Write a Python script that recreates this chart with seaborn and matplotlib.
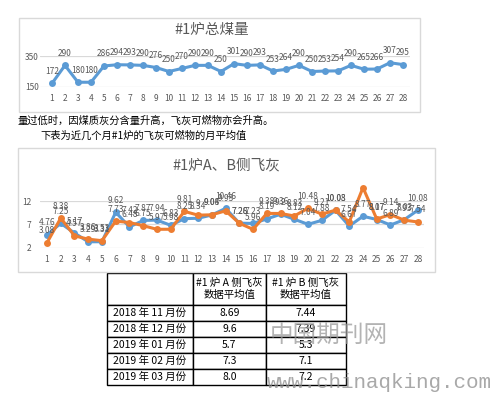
import matplotlib
matplotlib.use('Agg')
import pandas as pd
import matplotlib.pyplot as plt
from matplotlib.patches import Rectangle
import seaborn as sns

# data
days = list(range(1, 29))
coal = [172, 290, 180, 180, 286, 294, 293, 290, 276, 250, 270, 290, 290, 250,
        301, 290, 293, 253, 264, 290, 250, 253, 254, 290, 265, 266, 307, 295]
ash_a = [4.76, 7.25, 5.17, 3.29, 3.31, 9.62, 6.48, 7.87, 7.94, 6.83, 8.25, 8.34, 9.04, 10.46,
         7.28, 7.23, 8.19, 9.2, 8.12, 7.04, 7.88, 10.03, 6.67, 8.77, 8.07, 6.89, 8.03, 10.08]
ash_b = [3.08, 8.38, 4.57, 3.86, 3.53, 7.73, 7.42, 6.75, 5.97, 5.98, 9.81, 9.0, 9.08, 9.93,
         7.26, 5.96, 9.38, 9.36, 8.83, 10.48, 9.21, 10.08, 7.54, 14.9, 8.17, 9.14, 7.93, 7.54]
months = ['2018 年 11 月份', '2018 年 12 月份', '2019 年 01 月份', '2019 年 02 月份', '2019 年 03 月份']
avg_a = ['8.69', '9.6', '5.7', '7.3', '8.0']
avg_b = ['7.44', '7.39', '5.3', '7.1', '7.2']
headers = ['', '#1 炉 A 侧飞灰\n数据平均值', '#1 炉 B 侧飞灰\n数据平均值']

BLUE = '#5B9BD5'
ORANGE = '#ED7D31'
GRAY = '#595959'

sns.set_theme(style='white')
plt.rcParams['font.family'] = ['Noto Sans CJK SC', 'DejaVu Sans']

W, H = 497, 394
fig = plt.figure(figsize=(W / 100, H / 100), dpi=100)


def box(x0, y0, x1, y1):
    # pixel box (top-left origin) -> figure fraction rect
    return [x0 / W, 1 - y1 / H, (x1 - x0) / W, (y1 - y0) / H]


def frame(x0, y0, x1, y1):
    fig.add_artist(Rectangle((x0 / W, 1 - y1 / H), (x1 - x0) / W, (y1 - y0) / H,
                             transform=fig.transFigure, fill=False, ec='#d9d9d9', lw=1))


def style_axes(ax, pad_y):
    for s in ax.spines.values():
        s.set_visible(False)
    ax.yaxis.grid(True, color='#d9d9d9', lw=0.9)
    ax.xaxis.grid(False)
    ax.tick_params(length=0, labelsize=6, labelcolor=GRAY)
    ax.tick_params(axis='y', pad=pad_y)
    ax.tick_params(axis='x', pad=5)
    ax.set_xticks(days)
    ax.set_xlabel('')
    ax.set_ylabel('')


def label_points(ax, xs, ys, fmt, skip_above=None):
    for x, y in zip(xs, ys):
        if skip_above is not None and y > skip_above:
            continue
        ax.annotate(fmt(y), (x, y), xytext=(0, 12), textcoords='offset pixels',
                    ha='center', va='center', fontsize=6, color=GRAY,
                    annotation_clip=False)


# chart 1: total coal
frame(19, 18, 420, 112)
fig.text(212 / W, 1 - 30 / H, '#1炉总煤量', ha='center', va='center', fontsize=10.5, color=GRAY)
ax1 = fig.add_axes(box(40, 56, 410, 87))
df1 = pd.DataFrame({'day': days, 'coal': coal})
sns.lineplot(data=df1, x='day', y='coal', ax=ax1, color=BLUE, lw=2.2,
             marker='o', markersize=5, markeredgewidth=0, clip_on=False)
style_axes(ax1, 1)
ax1.set_yticks([150, 350])
ax1.set_xlim(0.08, 28.54)
ax1.set_ylim(149, 351)
label_points(ax1, days, coal, lambda v: f'{v:d}')

# text between the charts
fig.text(17 / W, 1 - 121 / H, '量过低时，因煤质灰分含量升高，飞灰可燃物亦会升高。',
         ha='left', va='center', fontsize=7.4, color='black')
fig.text(40 / W, 1 - 136 / H, '下表为近几个月#1炉的飞灰可燃物的月平均值',
         ha='left', va='center', fontsize=7.4, color='black')

# chart 2: fly ash A / B side
frame(18, 148, 435, 272)
fig.text(226 / W, 1 - 165 / H, '#1炉A、B侧飞灰', ha='center', va='center', fontsize=10.5, color=GRAY)
ax2 = fig.add_axes(box(40, 200.7, 424, 248.3))
df2 = pd.DataFrame({'day': days * 2,
                    'ash': ash_a + ash_b,
                    'side': ['A'] * len(days) + ['B'] * len(days)})
sns.lineplot(data=df2, x='day', y='ash', hue='side', palette={'A': BLUE, 'B': ORANGE},
             ax=ax2, lw=2.2, marker='o', markersize=5, markeredgewidth=0,
             legend=False, clip_on=False)
style_axes(ax2, 6)
ax2.set_yticks([2, 7, 12])
ax2.set_xlim(0.49, 28.44)
ax2.set_ylim(1.9, 12.1)
fmt2 = lambda v: f'{v:.2f}'.rstrip('0').rstrip('.')
label_points(ax2, days, ash_a, fmt2)
label_points(ax2, days, ash_b, fmt2, skip_above=12.5)

# table of monthly averages
axt = fig.add_axes(box(106.7, 273, 346, 385))
axt.axis('off')
rows = [[m, a, b] for m, a, b in zip(months, avg_a, avg_b)]
tbl = axt.table(cellText=rows, colLabels=headers, cellLoc='center',
                colLoc='center', bbox=[0, 0, 1, 1])
tbl.auto_set_font_size(False)
col_w = [86, 73.3, 80]
for (r, c), cell in tbl.get_celld().items():
    cell.set_width(col_w[c])
    cell.set_height(32 if r == 0 else 16)
    cell.set_edgecolor('black')
    cell.set_linewidth(1)
    cell.set_text_props(fontsize=7.5, color='black')

# watermark
fig.text(270 / W, 1 - 335 / H, '中国期刊网', ha='left', va='center', fontsize=17,
         color='#9a9a9a', alpha=0.75, fontweight='light')
fig.text(267 / W, 1 - 383 / H, 'www.chinaqking.com', ha='left', va='center',
         fontsize=15, family='Liberation Mono', color='#8c8c8c', alpha=0.75)

fig.savefig('out.png', dpi=100)
